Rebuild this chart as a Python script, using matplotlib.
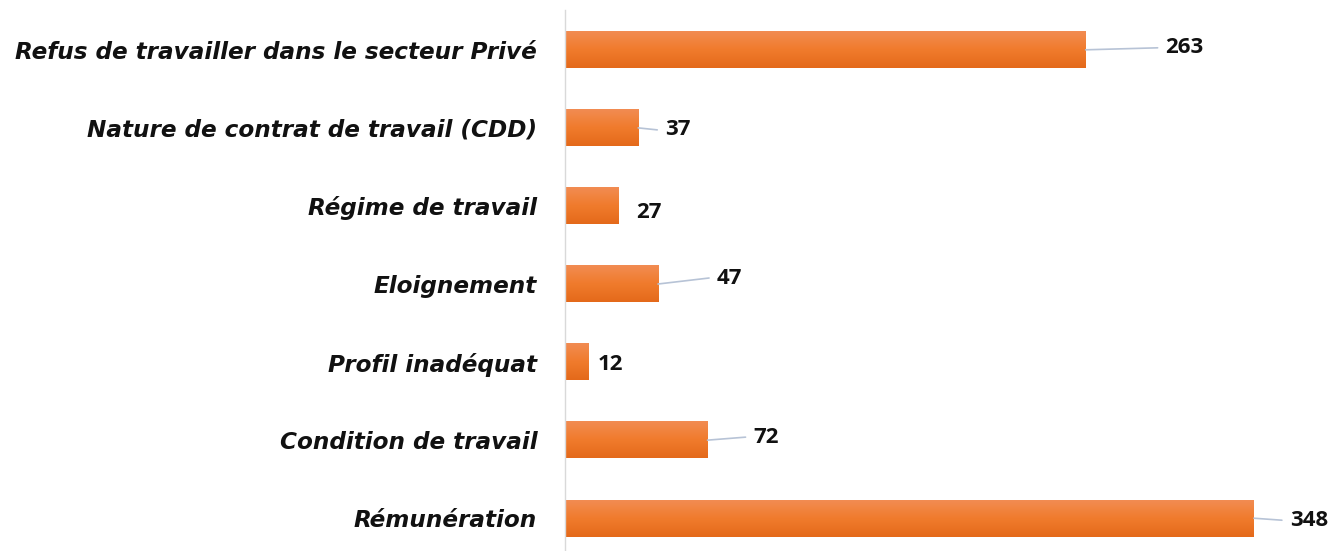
import matplotlib
matplotlib.use('Agg')
import matplotlib.pyplot as plt
import numpy as np

# data (bottom to top)
categories = ['Rémunération', 'Condition de travail', 'Profil inadéquat',
              'Eloignement', 'Régime de travail',
              'Nature de contrat de travail (CDD)',
              'Refus de travailler dans le secteur Privé']
values = [348, 72, 12, 47, 27, 37, 263]

# label offsets in pixels from the bar end (dx, dy) and whether a leader line is drawn
lbl_dx = [36, 46, 9, 59, 18, 27, 80]
lbl_dy = [-2, 3, -2, 6, -7, -2, 2]
leader = [True, True, False, True, False, True, True]

fig = plt.figure(figsize=(13.41, 5.51), dpi=100)
ax = fig.add_axes([565 / 1341, 0, 1 - 565 / 1341, (551 - 10) / 551])

y = np.arange(len(categories))
bars = ax.barh(y, values, height=0.47, color='none', zorder=2)

# vertical gradient on each bar
grad = np.linspace(0, 1, 100).reshape(-1, 1)
cmap = matplotlib.colors.LinearSegmentedColormap.from_list(
    'org', ['#e4691a', '#f07b2c', '#f28c52'])
for b in bars:
    x0, y0 = b.get_x(), b.get_y()
    ax.imshow(grad, extent=[x0, x0 + b.get_width(), y0, y0 + b.get_height()],
              origin='lower', cmap=cmap, aspect='auto', zorder=2)

ax.set_xlim(0, 392)
ax.set_ylim(-0.42, 6.51)

for i, v in enumerate(values):
    ax.annotate(str(v), xy=(v, i), xytext=(lbl_dx[i], lbl_dy[i]),
                textcoords='offset pixels', ha='left', va='center',
                fontsize=16, fontweight='bold', family='Open Sans',
                color='#111111')
    if leader[i]:
        ax.annotate('', xy=(v, i), xytext=(lbl_dx[i] - 8, lbl_dy[i]),
                    textcoords='offset pixels',
                    arrowprops=dict(arrowstyle='-', color='#b7c3d6', lw=1.2,
                                    shrinkA=0, shrinkB=0))

ax.set_yticks(y)
ax.set_yticklabels(categories, fontsize=16.7, fontweight='bold',
                   fontstyle='italic', family='DejaVu Sans', color='#111111')
ax.tick_params(axis='y', length=0, pad=20)
ax.set_xticks([])
for s in ['top', 'right', 'bottom']:
    ax.spines[s].set_visible(False)
ax.spines['left'].set_color('#d9d9d9')
ax.spines['left'].set_linewidth(1)

fig.savefig('out.png', dpi=100)
